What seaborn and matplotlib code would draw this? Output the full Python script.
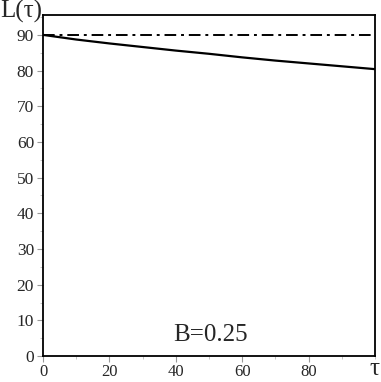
import matplotlib
matplotlib.use('Agg')
import matplotlib.pyplot as plt
import seaborn as sns
import pandas as pd
from matplotlib.ticker import MultipleLocator

# данные
tau = [0, 10, 20, 30, 40, 50, 60, 70, 80, 90, 100]
L_solid = [90.0, 88.7, 87.6, 86.6, 85.6, 84.7, 83.7, 82.8, 82.0, 81.2, 80.4]
L_dashdot = [90.0] * len(tau)
x_ticks = [0, 20, 40, 60, 80]
y_ticks = [0, 10, 20, 30, 40, 50, 60, 70, 80, 90]

sns.set_style('white')
plt.rcParams['font.family'] = ['Liberation Serif', 'DejaVu Serif']

df = pd.DataFrame({'tau': tau, 'solid': L_solid, 'dashdot': L_dashdot})

fig = plt.figure(figsize=(3.81, 3.82), dpi=100)
ax = fig.add_axes([0.113, 0.068, 0.871, 0.893])

sns.lineplot(data=df, x='tau', y='solid', color='black', lw=1.6, ax=ax)
sns.lineplot(data=df, x='tau', y='dashdot', color='black', lw=1.4, ax=ax)
ax.lines[-1].set_dashes([6, 2.5, 1.5, 2.5])

ax.set_xlim(0, 100)
ax.set_ylim(0, 95.6)
ax.set_xticks(x_ticks)
ax.set_yticks(y_ticks)
ax.xaxis.set_minor_locator(MultipleLocator(10))
ax.yaxis.set_minor_locator(MultipleLocator(5))
ax.tick_params(which='major', direction='out', length=4, width=0.8, color='#999999',
               labelsize=12.5, pad=2.5, bottom=True, left=True)
ax.tick_params(axis='x', which='major', labelsize=12, pad=2)
ax.tick_params(which='minor', direction='out', length=2, width=0.6, color='#bbbbbb',
               bottom=True, left=True)
ax.set_xlabel('')
ax.set_ylabel('')
for s in ax.spines.values():
    s.set_color('black')
    s.set_linewidth(1.3)

fig.text(0.0, 1.0, 'L(\u03c4)', fontsize=18, ha='left', va='top')
fig.text(0.995, 0.005, '\u03c4', fontsize=18, ha='right', va='bottom')
ax.text(50.5, 5.8, 'B=0.25', fontsize=18, ha='center', va='center')

fig.savefig('out.png', dpi=100)
plt.close()
